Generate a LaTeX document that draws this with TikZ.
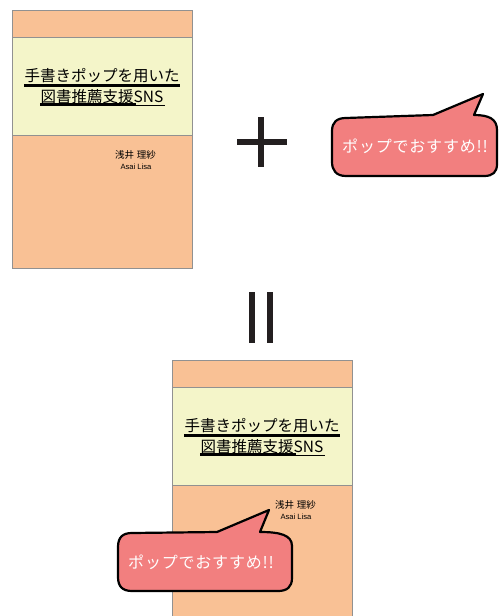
\documentclass[tikz,border=0pt]{standalone}
\usepackage{fontspec}
\setmainfont{Liberation Sans}
\newfontfamily\jpfont{Noto Sans CJK JP}
\newfontfamily\popfont[LetterSpace=5]{Noto Sans CJK JP}

\definecolor{peach}{RGB}{249,193,149}
\definecolor{cream}{RGB}{244,245,201}
\definecolor{framegray}{RGB}{145,145,145}
\definecolor{popred}{RGB}{242,127,127}
\definecolor{ink}{RGB}{35,31,32}

\tikzset{
  frame/.style={draw=framegray, line width=1pt},
  titletext/.style={inner sep=0pt, text=black, font=\jpfont\fontsize{15.5}{18}\selectfont},
  authorjp/.style={inner sep=0pt, text=black, font=\jpfont\fontsize{9.5}{11}\selectfont},
  authoren/.style={inner sep=0pt, text=black, font=\fontsize{7.6}{9}\selectfont},
  bubble/.style={fill=popred, draw=black, line width=2.2pt, line join=round},
  poptext/.style={inner sep=0pt, text=white, font=\popfont\fontsize{16}{19}\selectfont},
  symbolbar/.style={fill=ink},
  % book cover: 180 x 258, origin at its top left corner
  cover/.pic={
    \fill[peach] (0,0) rectangle (180,258);
    \fill[cream] (0,27) rectangle (180,125);
    \draw[frame] (0,27) -- (180,27) (0,125) -- (180,125);
    \draw[frame] (0,0) rectangle (180,258);
    \node[titletext] (-l1) at (90,66) {手書きポップを用いた};
    \node[titletext] (-l2) at (90,87) {図書推薦支援SNS};
    \draw[black, line width=3pt] (12,75.5) -- (168,75.5);
    \draw[black, line width=3pt] (28,94) -- (124,94);
    \draw[black, line width=1pt] (124,95) -- (153,95);
    \node[authorjp] (-name) at (123.5,145) {浅井\hspace{3pt}理紗};
    \node[authoren] (-roman) at (124,157) {Asai Lisa};
  }
}

\begin{document}
\begin{tikzpicture}[x=1pt,y=-1pt]
\useasboundingbox (0,0) rectangle (503,616);
\clip (0,0) rectangle (503,616);

% the two covers
\pic (bookA) at (12,10) {cover};
\pic (bookB) at (172,360) {cover};

% plus sign
\fill[symbolbar] (258,117) rectangle (264,167);
\fill[symbolbar] (237,139) rectangle (287,145);

% equals sign, turned upright
\fill[symbolbar] (249,292) rectangle (255,343);
\fill[symbolbar] (267,292) rectangle (273,343);

% speech bubble on its own
\draw[bubble] (346,118) -- (433,115) -- (483,94) -- (474,115)
  .. controls (489,115) and (497,119) .. (497,130) -- (497,164)
  .. controls (497,172) and (493,176) .. (484,176) -- (346,176)
  .. controls (336,176) and (332,170) .. (332,162) -- (332,131)
  .. controls (332,122) and (337,118) .. (346,118) -- cycle;
\node[poptext] (popA) at (415,146) {ポップでおすすめ!!};

% speech bubble laid over the second cover
\draw[bubble] (132,533) -- (217,532) -- (269,510) -- (260,532)
  .. controls (280,532) and (292,535) .. (292,546) -- (292,578)
  .. controls (292,587) and (287,591) .. (278,591) -- (132,591)
  .. controls (122,591) and (118,586) .. (118,577) -- (118,547)
  .. controls (118,537) and (123,533) .. (132,533) -- cycle;
\node[poptext] (popB) at (201,562) {ポップでおすすめ!!};
\end{tikzpicture}
\end{document}
